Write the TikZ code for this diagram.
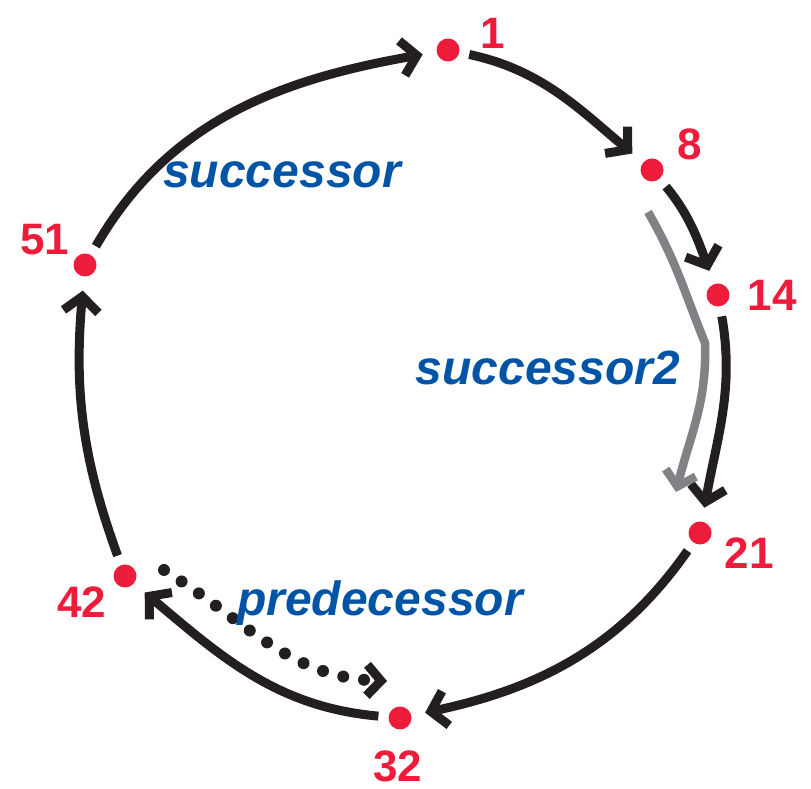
\documentclass[tikz,border=0pt]{standalone}
\usepackage{fontspec}
\setmainfont{Liberation Sans}
\usetikzlibrary{arrows.meta, positioning}

\definecolor{ringred}{RGB}{237,28,58}
\definecolor{ringblue}{RGB}{0,84,166}
\definecolor{ringgray}{RGB}{128,130,133}
\definecolor{ringblack}{RGB}{35,31,32}

\begin{document}
\begin{tikzpicture}[x=1pt, y=1pt,
        peer/.style={circle, fill=ringred, minimum size=23pt, inner sep=0pt},
        peerlabel/.style={text=ringred, inner sep=0pt, font=\fontsize{44}{44}\selectfont\bfseries},
        pointer/.style={text=ringblue, font=\fontsize{48}{48}\selectfont\bfseries\itshape},
        tip/.style={-{Straight Barb[length=15pt, width=35pt]}},
        link/.style={tip, line width=9pt, draw=ringblack, shorten <=10pt, shorten >=14pt}
        ]
        \useasboundingbox (0,0) rectangle (811,789);

        % peers on the ring
        \foreach \n/\x/\y in {1/448/739, 8/652/619, 14/718/494, 21/700/256,
                              32/400/71, 42/125/213, 51/85/524} {
            \node[peer] (p\n) at (\x,\y) {};
        }

        \node[peerlabel] (l1) at (493,756) {1};
        \node[peerlabel] (l8) at (690,645) {8};
        \node[peerlabel] (l14) at (772,494) {14};
        \node[peerlabel] (l21) at (749,236) {21};
        \node[peerlabel] (l32) at (398,23) {32};
        \node[peerlabel] (l42) at (82,187) {42};
        \node[peerlabel] (l51) at (45,549) {51};

        % successor links
        \draw[link] (p51) to[out=60, in=190] (p1);
        \draw[link] (p1) to[out=-12, in=140] (p8);
        \draw[link] (p8) to[out=-50, in=110] (p14);
        \draw[link] (p14) to[out=-80, in=80] (p21);
        \draw[link] (p21) to[out=-125, in=12] (p32);
        \draw[link] (p32) to[out=175, in=-40] (p42);
        \draw[link] (p42) to[out=110, in=-95] (p51);

        % second successor
        \coordinate (s2a) at (648,577);
        \coordinate (s2k) at (705,446);
        \coordinate (s2b) at (676,297);
        \draw[-{Straight Barb[length=14pt, width=31pt]}, line width=8.5pt, draw=ringgray]
            (s2a) to[out=-60, in=112] (s2k) to[out=-88, in=76] (s2b);

        % predecessor
        \coordinate (pra) at (164,219);
        \coordinate (prb) at (387,108);
        \draw[-{Straight Barb[length=14pt, width=31pt, line width=9pt]}, line width=12pt,
              draw=ringblack, line cap=round, dash pattern=on 0pt off 21pt]
            (pra) to[out=-32, in=178] (prb);

        \node[pointer] (succ) at (282,614) {successor};
        \node[pointer] (succ2) at (548,421) {successor2};
        \node[pointer] (pred) at (380,186) {predecessor};
    \end{tikzpicture}
\end{document}
